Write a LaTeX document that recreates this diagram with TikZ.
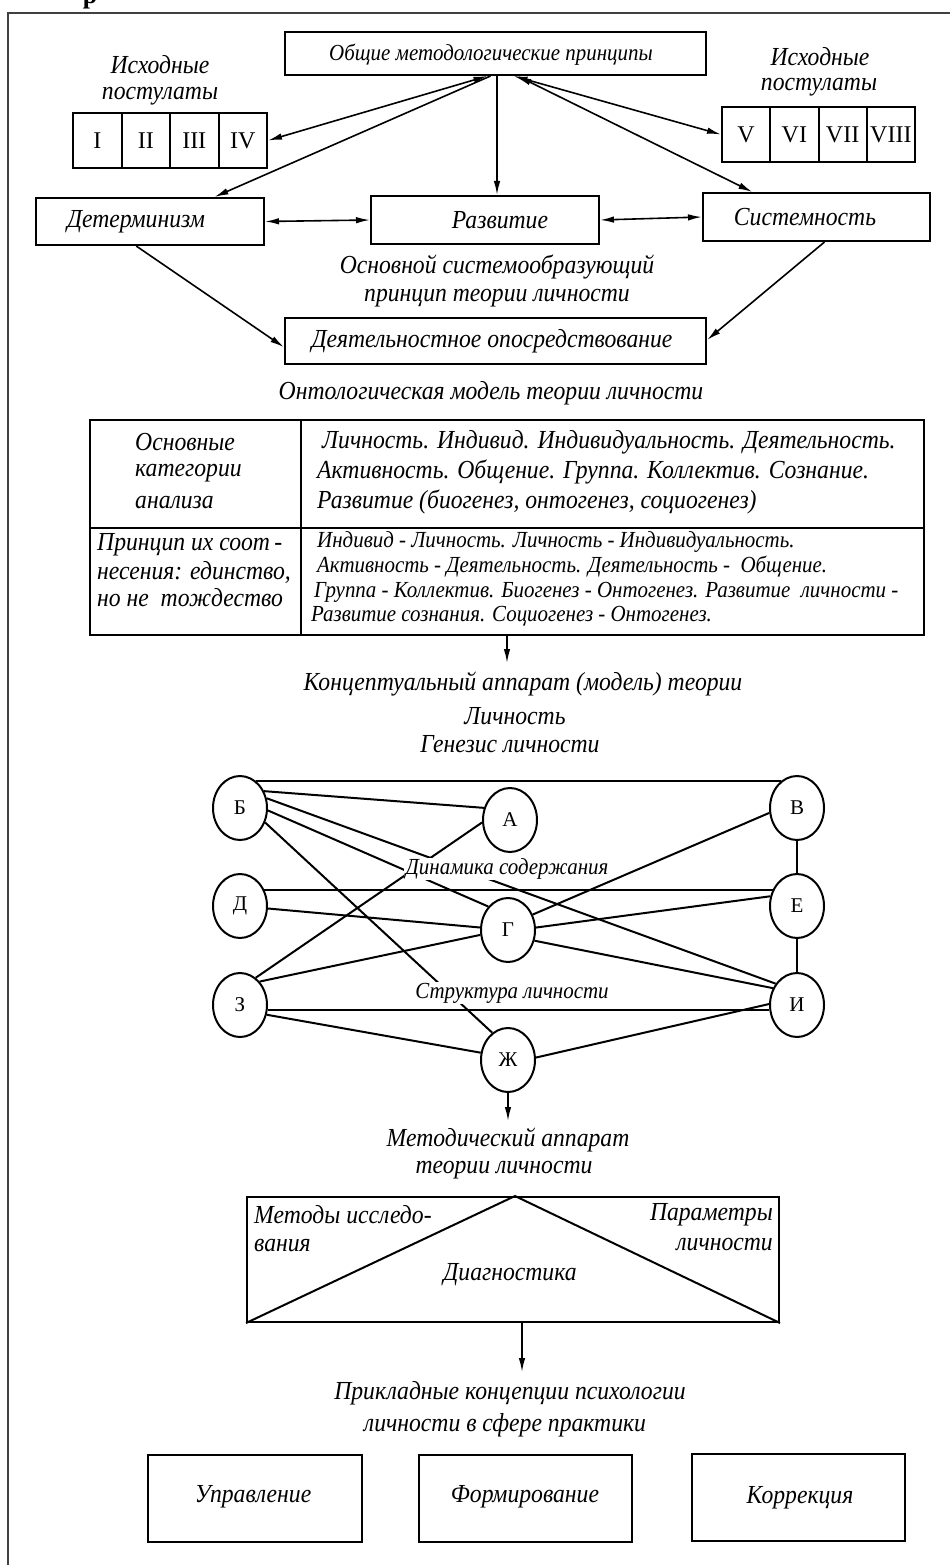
\documentclass[tikz,border=0pt]{standalone}
\usepackage{fontspec}
\setmainfont{Liberation Serif}
\newfontfamily\cond{Liberation Serif}[FakeStretch=0.91]
\usetikzlibrary{arrows.meta,calc,shapes.geometric}
\begin{document}
\begin{tikzpicture}[x=1pt,y=-1pt,
  bx/.style={draw, line width=2pt, inner sep=0pt, rectangle},
  it/.style={font=\cond\fontsize{26}{30}\selectfont\itshape, inner sep=0pt},
  its/.style={font=\cond\fontsize{23}{26}\selectfont\itshape, inner sep=0pt},
  rom/.style={font=\fontsize{24}{28}\selectfont},
  circ/.style={draw, ellipse, line width=2pt, minimum width=54pt, minimum height=64pt, inner sep=0pt, font=\fontsize{21}{24}\selectfont},
  edge/.style={line width=2pt},
  arr/.style={line width=1.6pt, -{Latex[length=14pt, width=6.5pt]}},
  dbl/.style={line width=1.6pt, {Latex[length=14pt, width=6.5pt]}-{Latex[length=14pt, width=6.5pt]}},
  glab/.style={fill=white, inner xsep=2pt, inner ysep=1pt, font=\cond\fontsize{23}{26}\selectfont\itshape}
]
\useasboundingbox (0,0) rectangle (950,1565);
\fill[white] (0,0) rectangle (950,1565);

% frame and clipped heading letter
\draw[line width=2.2pt, black!75] (8,1565) -- (8,13) -- (950,13);
\node[font=\fontsize{26}{30}\selectfont\bfseries, inner sep=0pt, anchor=base] (rr) at (90,4) {р};

% top block
\node[bx, minimum width=421pt, minimum height=43pt] (obsh) at (495.5,53.5) {};
\node[its] (obshT) at (491,55) {Общие методологические принципы};

\node[it] (isxL) at (160,65) {Исходные};
\node[it] (postL) at (160,96) {постулаты};
\node[it] (isxR) at (820,57) {Исходные};
\node[it] (postR) at (819,87) {постулаты};

\foreach \i/\t in {1/I,2/II,3/III,4/IV}
  \node[bx, rom, minimum width=48.5pt, minimum height=55pt] (p\i) at ({73+48.5*(\i-0.5)},140.5) {\t};
\foreach \i/\t in {5/V,6/VI,7/VII,8/VIII}
  \node[bx, rom, minimum width=48.25pt, minimum height=55pt] (p\i) at ({722+48.25*(\i-4.5)},134.5) {\t};

\node[bx, minimum width=228pt, minimum height=47pt] (det) at (150,221.5) {};
\node[it] (detT) at (136,222) {Детерминизм};
\node[bx, minimum width=228pt, minimum height=48pt] (razv) at (485,220) {};
\node[it] (razvT) at (500,220) {Развитие};
\node[bx, minimum width=227pt, minimum height=48pt] (sist) at (816.5,217) {};
\node[it] (sistT) at (805,217) {Системность};

\node[it] (osn1) at (497,267) {Основной системообразующий};
\node[it] (osn2) at (497,298) {принцип теории личности};

\node[bx, minimum width=421pt, minimum height=46pt] (deyat) at (495.5,341) {};
\node[it] (deyatT) at (492,341) {Деятельностное опосредствование};

% arrows of the top block
\draw[dbl] ([xshift=-8pt]obsh.south) -- (p4.east);
\draw[arr] ([xshift=-5pt]obsh.south) -- ($(det.north west)!0.78!(det.north east)$);
\draw[arr] ([xshift=1.5pt]obsh.south) -- ([xshift=1.5pt]obsh.south |- razv.north);
\draw[dbl] ([xshift=18pt]obsh.south) -- (p5.west);
\draw[dbl] ([xshift=22pt]obsh.south) -- ($(sist.north west)!0.22!(sist.north east)$);
\draw[dbl] (det.east) -- (razv.west);
\draw[dbl] (razv.east) -- (sist.west);
\draw[arr] ($(det.south west)!0.44!(det.south east)$) -- ($(deyat.south west)!0.37!(deyat.north west)$);
\draw[arr] ([xshift=8pt]sist.south) -- ($(deyat.south east)!0.52!(deyat.north east)$);

% ontological model table
\node[it] (onto) at (491,393) {Онтологическая модель теории личности};
\node[bx, minimum width=834pt, minimum height=215pt] (tbl) at (507,527.5) {};
\draw[line width=2pt] (tbl.west) -- (tbl.east);
\draw[line width=2pt] ([xshift=212pt]tbl.north west) -- ([xshift=212pt]tbl.south west);

\node[it, anchor=west] (t1a) at (135,442) {Основные};
\node[it, anchor=west] (t1b) at (135,473) {категории};
\node[it, anchor=west] (t1c) at (135,503) {анализа};
\node[it, anchor=west] (t2a) at (322,442) {Личность. Индивид. Индивидуальность. Деятельность.};
\node[it, anchor=west] (t2b) at (317,472) {Активность. Общение. Группа. Коллектив. Сознание.};
\node[it, anchor=west] (t2c) at (317,502) {Развитие (биогенез, онтогенез, социогенез)};
\node[it, anchor=west] (t3a) at (97,545) {Принцип их соот\,-};
\node[it, anchor=west] (t3b) at (97,572) {несения: единство,};
\node[it, anchor=west] (t3c) at (97,598) {но не~~тождество};
\node[its, anchor=west] (t4a) at (317,542) {Индивид - Личность. Личность - Индивидуальность.};
\node[its, anchor=west] (t4b) at (317,567) {Активность - Деятельность. Деятельность -~~Общение.};
\node[its, anchor=west] (t4c) at (314,592) {Группа - Коллектив. Биогенез - Онтогенез. Развитие~~личности -};
\node[its, anchor=west] (t4d) at (311,616) {Развитие сознания. Социогенез - Онтогенез.};

\coordinate (k0) at (507,663);
\draw[arr] (tbl.south) -- (k0);
\node[it] (konc1) at (523,684) {Концептуальный аппарат (модель) теории};
\node[it] (konc2) at (515,716) {Личность};
\node[it] (konc3) at (510,744) {Генезис личности};

% graph
\node[circ] (B) at (240,808) {Б};
\node[circ] (A) at (510,820) {А};
\node[circ] (V) at (797,808) {В};
\node[circ] (D) at (240,906) {Д};
\node[circ] (G) at (508,930) {Г};
\node[circ] (E) at (797,906) {Е};
\node[circ] (Z) at (240,1005) {З};
\node[circ] (I) at (797,1005) {И};
\node[circ] (Zh) at (508,1060) {Ж};

\draw[edge] (B.59) -- (V.121);
\draw[edge] (B.35) -- (A.155);
\draw[edge] (B.-5) -- (G.130);
\draw[edge] (B.20) -- (I.135);
\draw[edge] (B.-30) -- (Zh.120);
\draw[edge] (Z.60) -- (A.185);
\draw[edge] (G.32) -- (V.190);
\draw[edge] (D.34) -- (E.146);
\draw[edge] (D) -- (G);
\draw[edge] (G.5) -- (E.160);
\draw[edge] (G.-22) -- (I.145);
\draw[edge] (Z.50) -- (G.190);
\draw[edge] (Z.-10) -- (I.190);
\draw[edge] (Z.-20) -- (Zh.165);
\draw[edge] (Zh.5) -- (I.178);
\draw[edge] (V) -- (E);
\draw[edge] (E) -- (I);

\node[glab] (dyn) at (507,869) {Динамика содержания};
\node[glab] (str) at (512,993) {Структура личности};

\coordinate (m0) at (508,1121);
\draw[arr] (Zh.south) -- (m0);
\node[it] (met1) at (508,1140) {Методический аппарат};
\node[it] (met2) at (504,1170) {теории личности};

% diagnostics
\node[bx, minimum width=532pt, minimum height=125pt] (diag) at (513,1259.5) {};
\draw[line width=2pt] (diag.south west) -- ([xshift=2pt]diag.north) -- (diag.south east);
\node[it, anchor=west] (dm1) at (254,1215) {Методы исследо-};
\node[it, anchor=west] (dm2) at (254,1245) {вания};
\node[it, anchor=east] (dp1) at (773,1215) {Параметры};
\node[it, anchor=east] (dp2) at (773,1245) {личности};
\node[it] (dg) at (510,1275) {Диагностика};

\coordinate (pr0) at (522,1372);
\draw[arr] ([xshift=9pt]diag.south) -- (pr0);
\node[it] (pr1) at (510,1393) {Прикладные концепции психологии};
\node[it] (pr2) at (505,1425) {личности в сфере практики};

\node[bx, minimum width=214pt, minimum height=87pt] (upr) at (255,1498.5) {};
\node[it] (uprT) at (253,1497) {Управление};
\node[bx, minimum width=213pt, minimum height=87pt] (form) at (525.5,1498.5) {};
\node[it] (formT) at (525,1497) {Формирование};
\node[bx, minimum width=213pt, minimum height=87pt] (korr) at (798.5,1497) {};
\node[it] (korrT) at (800,1498) {Коррекция};
\end{tikzpicture}
\end{document}
